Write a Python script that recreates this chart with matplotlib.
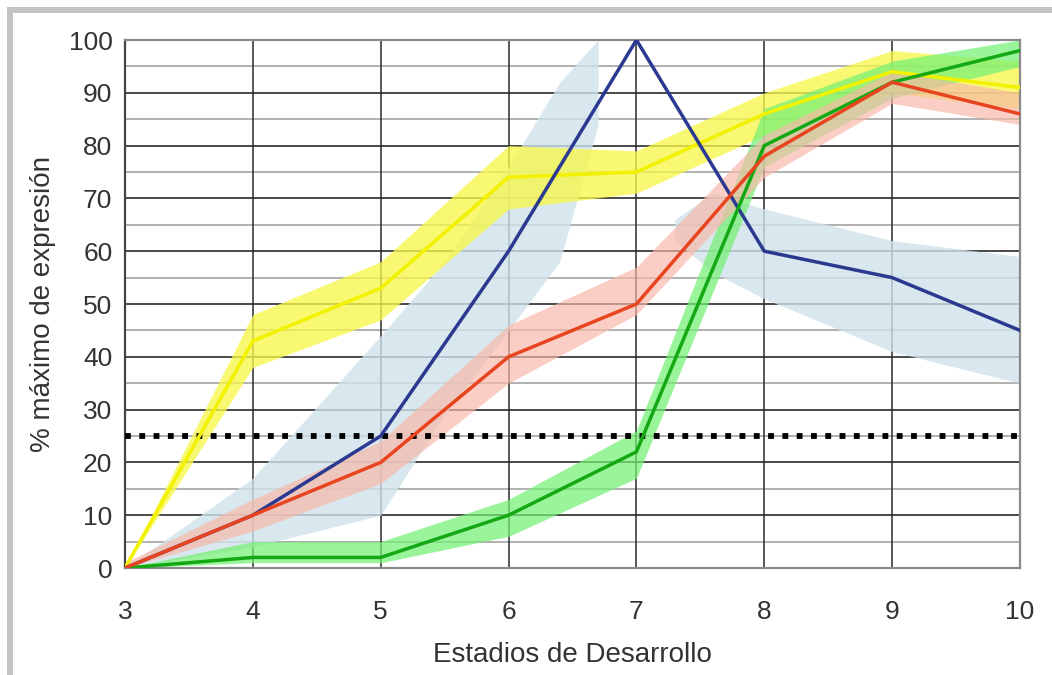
import matplotlib
matplotlib.use("Agg")
import matplotlib.pyplot as plt
from matplotlib.patches import Rectangle

plt.rcParams['font.family'] = ['Liberation Sans', 'DejaVu Sans']

# ---- data ----
stages = [3, 4, 5, 6, 7, 8, 9, 10]

blue_line = [0, 10, 25, 60, 100, 60, 55, 45]
red_line = [0, 10, 20, 40, 50, 78, 92, 86]
green_line = [0, 2, 2, 10, 22, 80, 92, 98]
yellow_line = [0, 43, 53, 74, 75, 86, 94, 91]

red_low = [0, 7, 16, 35, 48, 74, 88, 84]
red_up = [1, 13, 24, 46, 57, 82, 94, 90]
green_low = [0, 1, 1, 6, 17, 76, 89, 95]
green_up = [0, 5, 5, 13, 26, 87, 96, 100]
yellow_low = [0, 38, 47, 68, 71, 82, 90, 87]
yellow_up = [0, 48, 58, 80, 79, 90, 98, 96]

blue_band1_x = [3, 4, 5, 5.5, 6, 6.4, 6.7]
blue_band1_low = [0, 4, 10, 29, 45, 58, 84]
blue_band1_up = [0, 17, 44, 58, 76, 92, 100]
blue_band2_x = [7.3, 7.6, 8, 9, 10]
blue_band2_low = [62, 56, 51, 41, 35]
blue_band2_up = [66, 71, 68, 62, 59]

threshold = 25
x_ticks = [3, 4, 5, 6, 7, 8, 9, 10]
y_ticks = [0, 10, 20, 30, 40, 50, 60, 70, 80, 90, 100]
y_minor = [5, 15, 25, 35, 45, 55, 65, 75, 85, 95]

xlabel = "Estadios de Desarrollo"
ylabel = "% máximo de expresión"

# ---- figure ----
W, H = 1052, 675
fig = plt.figure(figsize=(W / 100, H / 100), dpi=100)
fig.patch.set_facecolor('white')

# grey frame (top + left)
fig.add_artist(Rectangle((7 / W, 0), 6 / W, 1 - 7 / H, transform=fig.transFigure,
                         facecolor='#c4c4c4', edgecolor='none'))
fig.add_artist(Rectangle((7 / W, 1 - 13 / H), 1, 6 / H, transform=fig.transFigure,
                         facecolor='#c4c4c4', edgecolor='none'))

left, right, top, bottom = 125 / W, 1020 / W, 1 - 40 / H, 1 - 568 / H
ax = fig.add_axes([left, bottom, right - left, top - bottom])
ax.set_xlim(3, 10)
ax.set_ylim(0, 100)

# grid
for y in y_minor:
    ax.axhline(y, color='#b0b0b0', lw=1.4, zorder=0.5)
for y in y_ticks:
    ax.axhline(y, color='#3a3a3a', lw=1.3, zorder=0.6)
for x in x_ticks:
    ax.axvline(x, color='#2a2a2a', lw=1.1, zorder=0.6)

# bands
def band(x, lo, up, color, alpha, z):
    ax.fill_between(x, lo, up, color=color, alpha=alpha, lw=0, zorder=z)

band(blue_band1_x, blue_band1_low, blue_band1_up, '#cfe3ea', 0.8, 1)
band(blue_band2_x, blue_band2_low, blue_band2_up, '#cfe3ea', 0.8, 1)
band(stages, yellow_low, yellow_up, '#f7f74a', 0.78, 1.2)
band(stages, green_low, green_up, '#74f074', 0.72, 1.3)
band(stages, red_low, red_up, '#f8b8a8', 0.68, 1.4)

# threshold dotted line
ax.axhline(threshold, color='black', lw=4.2, linestyle=(0, (1, 1.45)), zorder=3)

# lines
ax.plot(stages, yellow_line, color='#f2f200', lw=2.5, zorder=4)
ax.plot(stages, blue_line, color='#2b3990', lw=2.5, zorder=4.1)
ax.plot(stages, green_line, color='#14a814', lw=2.5, zorder=4.2)
ax.plot(stages, red_line, color='#e8441f', lw=2.5, zorder=4.3)

# spines
for s in ['top', 'right', 'bottom']:
    ax.spines[s].set_color('#8a8a8a')
    ax.spines[s].set_linewidth(1.6)
ax.spines['left'].set_color('#444444')
ax.spines['left'].set_linewidth(1.6)

ax.set_xticks(x_ticks)
ax.set_xticklabels([str(v) for v in x_ticks])
ax.set_yticks(y_ticks)
ax.set_yticklabels([str(v) for v in y_ticks])
ax.tick_params(axis='both', length=0, labelsize=19, colors='#333333')
ax.tick_params(axis='x', pad=23)
ax.tick_params(axis='y', pad=9)

ax.set_xlabel(xlabel, fontsize=20, color='#333333', labelpad=13)
ax.set_ylabel(ylabel, fontsize=20, color='#333333', labelpad=9)

fig.savefig('out.png', dpi=100, facecolor='white')
